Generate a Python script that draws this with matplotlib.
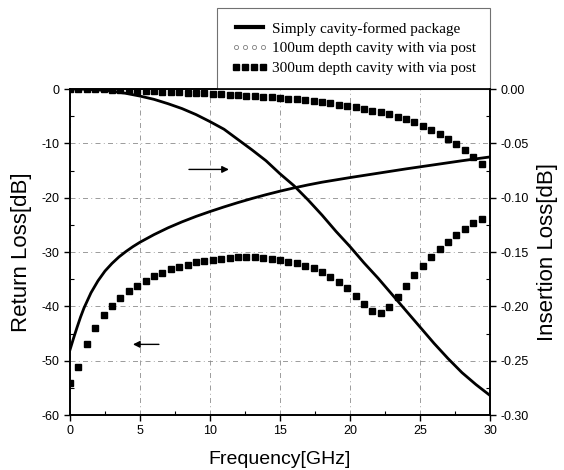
import numpy as np
import matplotlib
matplotlib.use("Agg")
import matplotlib.pyplot as plt
from matplotlib.lines import Line2D
from matplotlib.ticker import MultipleLocator, FormatStrFormatter

plt.rcParams['font.family'] = ['Liberation Sans', 'DejaVu Sans']
plt.rcParams['axes.unicode_minus'] = False

# solid line, simply cavity-formed package
f_solid = [0, 0.25, 0.5, 0.75, 1, 1.5, 2, 2.5, 3, 3.5, 4, 4.5, 5, 6, 7, 8, 9, 10, 11, 12,
           13, 14, 15, 16, 17, 18, 20, 22, 24, 26, 28, 30]
rl_solid = [-48.0, -45.9, -43.9, -42.0, -40.3, -37.5, -35.3, -33.5, -32.1, -30.9, -29.9,
            -29.0, -28.2, -26.8, -25.55, -24.45, -23.45, -22.55, -21.7, -20.9,
            -20.15, -19.45, -18.8, -18.2, -17.65, -17.15, -16.3, -15.5, -14.7, -13.95,
            -13.2, -12.5]
f_il = [0, 1, 2, 3, 4, 5, 6, 7, 8, 9, 10, 11, 12, 13, 14, 15, 16, 17, 18, 19, 20,
        21, 22, 23, 24, 25, 26, 27, 28, 29, 30]
il_solid = [0, -0.0002, -0.0008, -0.002, -0.004, -0.0065, -0.0095, -0.0135, -0.018, -0.0235,
            -0.030, -0.037, -0.0465, -0.056, -0.066, -0.078, -0.089, -0.102, -0.116, -0.131,
            -0.145, -0.160, -0.174, -0.189, -0.204, -0.219, -0.234, -0.248, -0.261, -0.272, -0.282]

# squares, 300um depth cavity with via post
f_sq = [0.0, 0.6, 1.2, 1.8, 2.4, 3.0, 3.6, 4.2, 4.8, 5.4, 6.0, 6.6, 7.2, 7.8, 8.4, 9.0, 9.6,
        10.2, 10.8, 11.4, 12.0, 12.6, 13.2, 13.8, 14.4, 15.0, 15.6, 16.2, 16.8, 17.4, 18.0,
        18.6, 19.2, 19.8, 20.4, 21.0, 21.6, 22.2, 22.8, 23.4, 24.0, 24.6, 25.2, 25.8, 26.4,
        27.0, 27.6, 28.2, 28.8, 29.4]
rl_sq = [-54.2, -51.1, -47.0, -44.0, -41.6, -40.0, -38.5, -37.2, -36.2, -35.3, -34.5, -33.8,
         -33.2, -32.7, -32.3, -31.9, -31.6, -31.4, -31.2, -31.1, -31.0, -31.0, -31.0, -31.1,
         -31.2, -31.5, -31.8, -32.1, -32.5, -33.0, -33.7, -34.6, -35.5, -36.7, -38.1, -39.6,
         -40.8, -41.2, -40.2, -38.3, -36.3, -34.3, -32.5, -30.9, -29.5, -28.1, -26.9, -25.8,
         -24.7, -23.9]
il_sq = [0, 0, 0, -0.0002, -0.0004, -0.0006, -0.0009, -0.0012, -0.0015, -0.0018, -0.0021,
         -0.0025, -0.0028, -0.0031, -0.0034, -0.0037, -0.0041, -0.0045, -0.0049, -0.0053,
         -0.0057, -0.0062, -0.0067, -0.0072, -0.0077, -0.0083, -0.0089, -0.0096, -0.0104,
         -0.0113, -0.0122, -0.0132, -0.0143, -0.0155, -0.0168, -0.0182, -0.0198, -0.0215,
         -0.0234, -0.0255, -0.0278, -0.0303, -0.034, -0.0375, -0.0415, -0.046, -0.051,
         -0.0565, -0.0625, -0.069]

fig = plt.figure(figsize=(5.64, 4.70), dpi=100)
ax = fig.add_axes([0.1241, 0.1170, 0.7447, 0.6936])
ax2 = ax.twinx()

ax.plot(f_solid, rl_solid, color='black', lw=2)
ax.plot(f_sq, rl_sq, ls='none', marker='s', ms=5, color='black')
ax2.plot(f_il, il_solid, color='black', lw=2)
ax2.plot(f_sq, il_sq, ls='none', marker='s', ms=5, color='black')

ax.set_xlim(0, 30)
ax.set_ylim(-60, 0)
ax2.set_ylim(-0.30, 0.0)

ax.xaxis.set_major_locator(MultipleLocator(5))
ax.xaxis.set_minor_locator(MultipleLocator(2.5))
ax.yaxis.set_major_locator(MultipleLocator(10))
ax.yaxis.set_minor_locator(MultipleLocator(5))
ax2.yaxis.set_major_locator(MultipleLocator(0.05))
ax2.yaxis.set_minor_locator(MultipleLocator(0.025))
ax2.yaxis.set_major_formatter(FormatStrFormatter('%.2f'))

for a in (ax, ax2):
    a.tick_params(which='major', direction='out', length=4, width=1, labelsize=9)
    a.tick_params(which='minor', direction='in', length=3, width=0.8)
    for s in a.spines.values():
        s.set_linewidth(1.2)

ax.grid(True, which='major', color='0.55', lw=0.6, ls=(0, (6, 4, 1, 4)))

ax.set_xlabel('Frequency[GHz]', fontsize=14)
ax.set_ylabel('Return Loss[dB]', fontsize=16)
ax2.set_ylabel('Insertion Loss[dB]', fontsize=16)
ax.xaxis.set_label_coords(0.5, -0.11)
ax.yaxis.set_label_coords(-0.09, 0.5)
ax2.yaxis.set_label_coords(1.112, 0.5)

# direction arrows
ax.annotate('', xy=(11.55, -14.8), xytext=(8.3, -14.8),
            arrowprops=dict(arrowstyle='-|>', color='black', lw=1, mutation_scale=10))
ax.annotate('', xy=(4.3, -47.0), xytext=(6.55, -47.0),
            arrowprops=dict(arrowstyle='-|>', color='black', lw=1, mutation_scale=10))

handles = [Line2D([], [], color='black', lw=3),
           Line2D([], [], ls='none', marker='o', ms=3, mfc='none', mec='0.5', mew=0.6),
           Line2D([], [], ls='none', marker='s', ms=4, color='black')]
labels = ['Simply cavity-formed package',
          '100um depth cavity with via post',
          '300um depth cavity with via post']
leg = ax.legend(handles, labels, loc='lower right', bbox_to_anchor=(1.0, 1.0),
                prop={'family': 'Liberation Serif', 'size': 11}, numpoints=4,
                handlelength=2.4, handletextpad=0.3, labelspacing=0.4,
                borderaxespad=0, frameon=True, fancybox=False, borderpad=0.9)
leg.get_frame().set_edgecolor('0.3')
leg.get_frame().set_linewidth(0.8)

fig.savefig('out.png', dpi=100)
